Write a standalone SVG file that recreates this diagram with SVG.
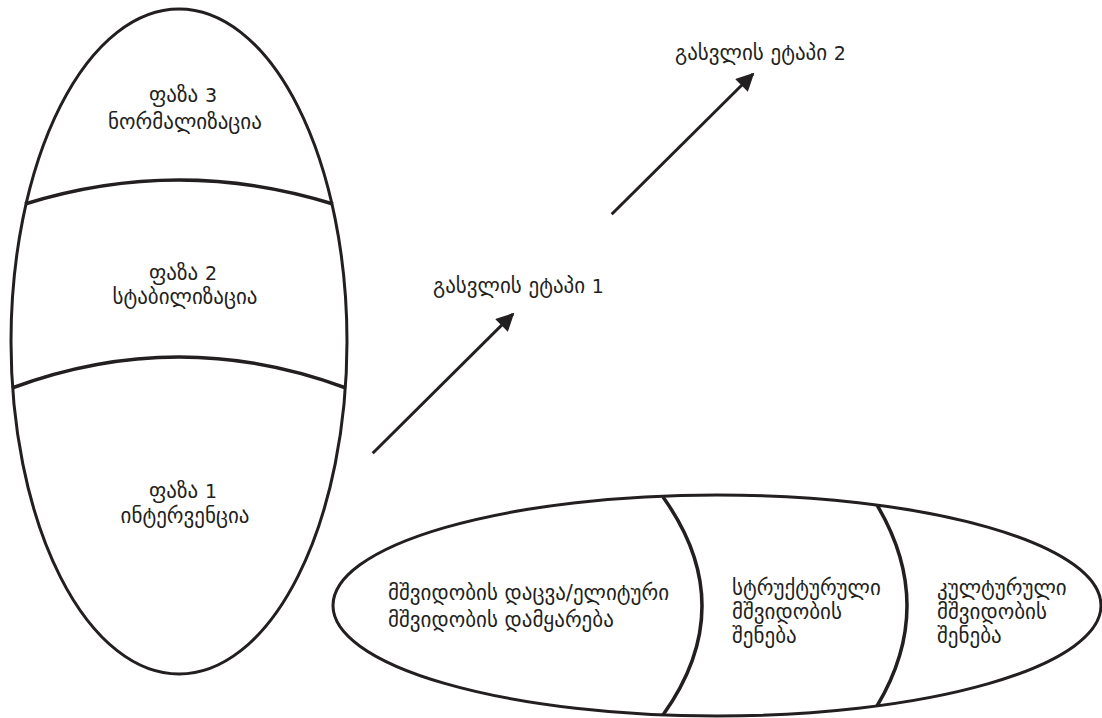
<svg xmlns="http://www.w3.org/2000/svg" width="1102" height="718" viewBox="0 0 1102 718">
<defs>
<style>
.shape{fill:none;stroke:#231f20;stroke-width:3}
.div{fill:none;stroke:#231f20;stroke-width:3.5}
.lbl{font-family:"DejaVu Sans","Noto Sans",sans-serif;font-size:21px;fill:#231f20}
.num{font-family:"DejaVu Sans",sans-serif;font-size:19px}
.c{text-anchor:middle}
.conn{stroke:#231f20;stroke-width:3;fill:none}
</style>
<marker id="ah" viewBox="0 0 10 10" refX="9" refY="5" markerWidth="7" markerHeight="6" markerUnits="strokeWidth" orient="auto">
<path d="M0,0 L10,5 L0,10 z" fill="#231f20"/>
</marker>
</defs>
<rect width="1102" height="718" fill="#fff"/>
<g id="phases">
<ellipse class="shape" cx="179" cy="341.5" rx="168" ry="332.5"/>
<path class="div" d="M25,204 Q179,156 333,204"/>
<path class="div" d="M12,388 Q179,326 346,388"/>
</g>
<g id="phase3">
<text class="lbl c" x="183" y="102">ფაზა <tspan class="num">3</tspan></text>
<text class="lbl c" x="185" y="129">ნორმალიზაცია</text>
</g>
<g id="phase2">
<text class="lbl c" x="183" y="280">ფაზა <tspan class="num">2</tspan></text>
<text class="lbl c" x="185" y="304">სტაბილიზაცია</text>
</g>
<g id="phase1">
<text class="lbl c" x="183" y="498">ფაზა <tspan class="num">1</tspan></text>
<text class="lbl c" x="185" y="523">ინტერვენცია</text>
</g>
<g id="peacebuilding">
<ellipse class="shape" cx="717" cy="605.5" rx="384" ry="110.5"/>
<path class="div" d="M663,497 Q741,606 663,715"/>
<path class="div" d="M877,505 Q937,606 877,706"/>
</g>
<g id="peacekeeping">
<text class="lbl" x="388" y="600">მშვიდობის დაცვა/ელიტური</text>
<text class="lbl" x="388" y="627">მშვიდობის დამყარება</text>
</g>
<g id="structural">
<text class="lbl" x="732" y="595">სტრუქტურული</text>
<text class="lbl" x="732" y="619">მშვიდობის</text>
<text class="lbl" x="732" y="643">შენება</text>
</g>
<g id="cultural">
<text class="lbl" x="937" y="595">კულტურული</text>
<text class="lbl" x="937" y="619">მშვიდობის</text>
<text class="lbl" x="937" y="643">შენება</text>
</g>
<g id="exit1"><text class="lbl" x="433" y="293">გასვლის ეტაპი <tspan class="num">1</tspan></text></g>
<g id="exit2"><text class="lbl" x="675" y="60">გასვლის ეტაპი <tspan class="num">2</tspan></text></g>
<g id="connectors">
<line class="conn" x1="372.7" y1="453.3" x2="513" y2="314" marker-end="url(#ah)"/>
<line class="conn" x1="611.7" y1="214.3" x2="753" y2="74" marker-end="url(#ah)"/>
</g>
</svg>
